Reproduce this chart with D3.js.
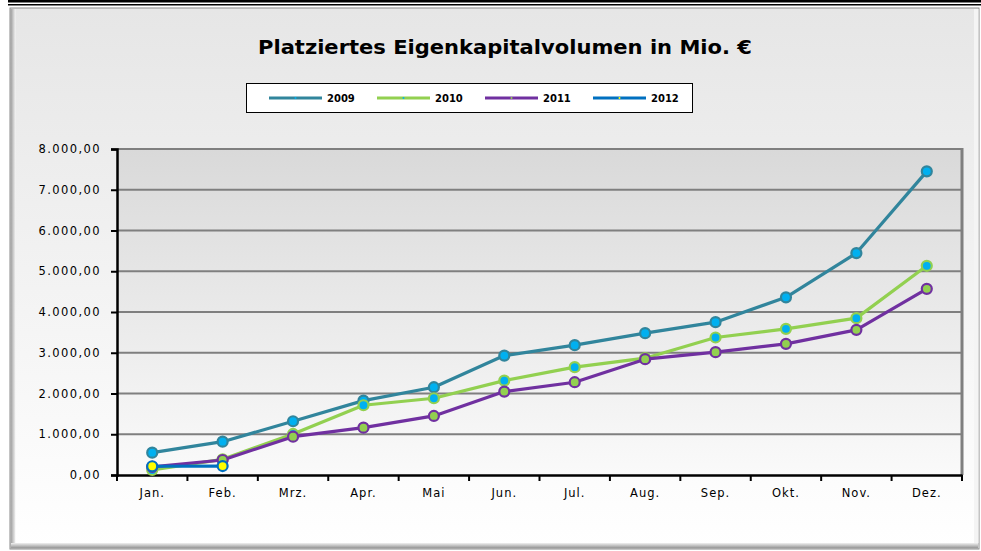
<!DOCTYPE html>
<html>
<head>
<meta charset="utf-8">
<script src="https://cdn.jsdelivr.net/npm/d3@7"></script>
<style>
  html, body { margin: 0; padding: 0; background: #ffffff; }
  svg { display: block; }
</style>
</head>
<body>
<svg id="chart" width="981" height="551"></svg>
<script>
// Placed equity volume per month, million €
const months = ["Jan.", "Feb.", "Mrz.", "Apr.", "Mai", "Jun.", "Jul.", "Aug.", "Sep.", "Okt.", "Nov.", "Dez."];
const values2009 = [548, 818, 1319, 1825, 2154, 2931, 3186, 3481, 3751, 4360, 5446, 7451];
const values2010 = [123, 385, 1007, 1712, 1883, 2317, 2646, 2867, 3374, 3586, 3849, 5134];
const values2011 = [200, 368, 941, 1162, 1449, 2047, 2277, 2842, 3014, 3218, 3562, 4569];
const values2012 = [215, 220];
const yTicks = [0, 1000, 2000, 3000, 4000, 5000, 6000, 7000, 8000];
const seriesNames = ["2009", "2010", "2011", "2012"];

const series = [
  { name: seriesNames[0], values: values2009, line: "#31859c", fill: "#00b0f0", ring: "#31859c" },
  { name: seriesNames[1], values: values2010, line: "#92d050", fill: "#00b0f0", ring: "#92d050" },
  { name: seriesNames[2], values: values2011, line: "#7030a0", fill: "#92d050", ring: "#7030a0" },
  { name: seriesNames[3], values: values2012, line: "#0070c0", fill: "#ffff00", ring: "#0070c0" }
];

const svg = d3.select("#chart");
const defs = svg.append("defs");

const bgGrad = defs.append("linearGradient").attr("id", "bgGrad").attr("x1", 0).attr("y1", 0).attr("x2", 0).attr("y2", 1);
bgGrad.append("stop").attr("offset", "0%").attr("stop-color", "#e6e6e6");
bgGrad.append("stop").attr("offset", "100%").attr("stop-color", "#ffffff");

const plotGrad = defs.append("linearGradient").attr("id", "plotGrad").attr("x1", 0).attr("y1", 0).attr("x2", 0).attr("y2", 1);
plotGrad.append("stop").attr("offset", "0%").attr("stop-color", "#d9d9d9");
plotGrad.append("stop").attr("offset", "100%").attr("stop-color", "#fafafa");

const leftEdge = defs.append("linearGradient").attr("id", "leftEdge").attr("x1", 0).attr("y1", 0).attr("x2", 1).attr("y2", 0);
leftEdge.append("stop").attr("offset", "0%").attr("stop-color", "#9a9a9a");
leftEdge.append("stop").attr("offset", "100%").attr("stop-color", "#f2f2f2");

const bottomEdge = defs.append("linearGradient").attr("id", "bottomEdge").attr("x1", 0).attr("y1", 0).attr("x2", 0).attr("y2", 1);
bottomEdge.append("stop").attr("offset", "0%").attr("stop-color", "#f0f0f0");
bottomEdge.append("stop").attr("offset", "100%").attr("stop-color", "#8c8c8c");

// Header rule
svg.append("rect").attr("x", 8).attr("y", 0).attr("width", 973).attr("height", 2.5).attr("fill", "#000");
svg.append("rect").attr("x", 8).attr("y", 4).attr("width", 973).attr("height", 1.5).attr("fill", "#000");

// Chart frame
svg.append("rect").attr("x", 10).attr("y", 8).attr("width", 969).attr("height", 541)
  .attr("fill", "url(#bgGrad)").attr("stroke", "#8a8a8a").attr("stroke-width", 1);
svg.append("rect").attr("x", 10.5).attr("y", 9).attr("width", 5).attr("height", 539).attr("fill", "url(#leftEdge)");
svg.append("rect").attr("x", 11).attr("y", 543).attr("width", 967).attr("height", 5.5).attr("fill", "url(#bottomEdge)");
svg.append("rect").attr("x", 974).attr("y", 9).attr("width", 4.5).attr("height", 534).attr("fill", "#f4f4f4");

// Title
svg.append("text")
  .attr("x", 505).attr("y", 54)
  .attr("text-anchor", "middle")
  .attr("font-family", "DejaVu Sans, Verdana, sans-serif")
  .attr("font-weight", "bold")
  .attr("font-size", 19)
  .attr("textLength", 494).attr("lengthAdjust", "spacingAndGlyphs")
  .attr("fill", "#000")
  .text("Platziertes Eigenkapitalvolumen in Mio. €");

// Legend
const legend = svg.append("g");
legend.append("rect").attr("x", 246.5).attr("y", 83.5).attr("width", 446).attr("height", 29)
  .attr("fill", "#ffffff").attr("stroke", "#000").attr("stroke-width", 1);
const legendX = [269, 377, 485, 593];
series.forEach((s, i) => {
  const g = legend.append("g").attr("transform", `translate(${legendX[i]},98)`);
  g.append("line").attr("x1", 0).attr("x2", 53).attr("y1", 0).attr("y2", 0)
    .attr("stroke", s.line).attr("stroke-width", 3);
  g.append("circle").attr("cx", 26.5).attr("cy", 0).attr("r", 1).attr("fill", s.fill);
  g.append("text").attr("x", 58).attr("y", 3.8)
    .attr("font-family", "DejaVu Sans, Verdana, sans-serif")
    .attr("font-weight", "bold").attr("font-size", 10).attr("fill", "#000")
    .text(s.name);
});

// Plot area
const plot = { left: 117, right: 962, top: 149, bottom: 475 };

const x = d3.scaleBand().domain(months).range([plot.left, plot.right]).padding(0);
const y = d3.scaleLinear().domain([0, 8000]).range([plot.bottom, plot.top]);

svg.append("rect").attr("x", plot.left).attr("y", plot.top)
  .attr("width", plot.right - plot.left).attr("height", plot.bottom - plot.top)
  .attr("fill", "url(#plotGrad)");

// Horizontal gridlines
svg.append("g").selectAll("line").data(yTicks.filter(t => t > 0)).join("line")
  .attr("x1", plot.left).attr("x2", plot.right)
  .attr("y1", d => y(d)).attr("y2", d => y(d))
  .attr("stroke", "#7f7f7f").attr("stroke-width", 2);

// Right border of plot
svg.append("line").attr("x1", plot.right).attr("x2", plot.right)
  .attr("y1", plot.top - 1).attr("y2", plot.bottom)
  .attr("stroke", "#7f7f7f").attr("stroke-width", 3);

// Y axis
const fmt = v => d3.format(",.2f")(v).replace(/,/g, "#").replace(".", ",").replace(/#/g, ".");
const yAxis = d3.axisLeft(y).tickValues(yTicks).tickFormat(fmt).tickSize(6).tickPadding(10);
const yg = svg.append("g").attr("transform", `translate(${plot.left},0)`).call(yAxis);
yg.select(".domain").attr("stroke", "#000").attr("stroke-width", 2.5);
yg.selectAll(".tick line").attr("stroke", "#000").attr("stroke-width", 2);
yg.selectAll(".tick text")
  .attr("font-family", "DejaVu Sans, Verdana, sans-serif")
  .attr("font-size", 11.5).attr("letter-spacing", 1.4).attr("fill", "#000");

// X axis with ticks at category boundaries
const xAxis = d3.axisBottom(x).tickSize(0).tickPadding(14);
const xg = svg.append("g").attr("transform", `translate(0,${plot.bottom})`).call(xAxis);
xg.select(".domain").attr("stroke", "#000").attr("stroke-width", 2.5);
xg.selectAll(".tick text")
  .attr("font-family", "DejaVu Sans, Verdana, sans-serif")
  .attr("font-size", 11.5).attr("letter-spacing", 1).attr("fill", "#000");
xg.selectAll("line.bound").data(d3.range(months.length + 1)).join("line")
  .attr("class", "bound")
  .attr("x1", i => plot.left + i * x.bandwidth()).attr("x2", i => plot.left + i * x.bandwidth())
  .attr("y1", 0).attr("y2", 6)
  .attr("stroke", "#000").attr("stroke-width", 2);

// Series lines and markers
const line = d3.line()
  .x((d, i) => x(months[i]) + x.bandwidth() / 2)
  .y(d => y(d));

series.forEach(s => {
  const g = svg.append("g");
  g.append("path").datum(s.values)
    .attr("d", line)
    .attr("fill", "none").attr("stroke", s.line).attr("stroke-width", 3.2)
    .attr("stroke-linejoin", "round");
  g.selectAll("circle").data(s.values).join("circle")
    .attr("cx", (d, i) => x(months[i]) + x.bandwidth() / 2)
    .attr("cy", d => y(d))
    .attr("r", 5)
    .attr("fill", s.fill).attr("stroke", s.ring).attr("stroke-width", 2.2);
});
</script>
</body>
</html>
